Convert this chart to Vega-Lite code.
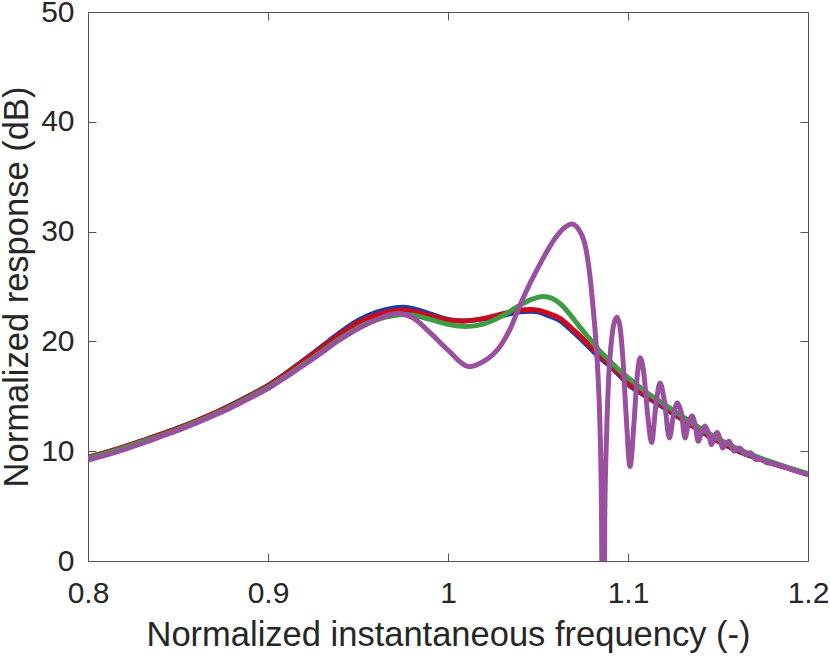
{
  "$schema": "https://vega.github.io/schema/vega-lite/v6.json",
  "width": 720,
  "height": 549,
  "autosize": {"type": "none"},
  "padding": {"left": 88, "top": 12, "right": 22, "bottom": 97},
  "background": "white",
  "config": {
    "view": {"stroke": null},
    "axis": {
      "labelFont": "Liberation Sans",
      "titleFont": "Liberation Sans",
      "labelFontSize": 30,
      "titleFontSize": 34.5,
      "titleFontWeight": "normal",
      "labelColor": "#262626",
      "titleColor": "#262626",
      "domainColor": "#555555",
      "tickColor": "#555555",
      "tickSize": -8,
      "labelFlush": false,
      "labelOverlap": false,
      "grid": false
    }
  },
  "data": {
    "values": [
      {"s": "s1", "f": 0.80, "r": 9.45}, {"s": "s1", "f": 0.81, "r": 9.9}, {"s": "s1", "f": 0.82, "r": 10.4},
      {"s": "s1", "f": 0.83, "r": 10.95}, {"s": "s1", "f": 0.84, "r": 11.5}, {"s": "s1", "f": 0.85, "r": 12.1},
      {"s": "s1", "f": 0.86, "r": 12.75}, {"s": "s1", "f": 0.87, "r": 13.45}, {"s": "s1", "f": 0.88, "r": 14.25},
      {"s": "s1", "f": 0.89, "r": 15.1}, {"s": "s1", "f": 0.90, "r": 16.0}, {"s": "s1", "f": 0.91, "r": 17.1},
      {"s": "s1", "f": 0.92, "r": 18.3}, {"s": "s1", "f": 0.93, "r": 19.55}, {"s": "s1", "f": 0.94, "r": 20.8},
      {"s": "s1", "f": 0.95, "r": 21.9}, {"s": "s1", "f": 0.96, "r": 22.65}, {"s": "s1", "f": 0.97, "r": 23.05},
      {"s": "s1", "f": 0.975, "r": 23.1}, {"s": "s1", "f": 0.98, "r": 23.0}, {"s": "s1", "f": 0.99, "r": 22.5},
      {"s": "s1", "f": 1.00, "r": 22.0}, {"s": "s1", "f": 1.008, "r": 21.85}, {"s": "s1", "f": 1.02, "r": 22.05},
      {"s": "s1", "f": 1.03, "r": 22.35}, {"s": "s1", "f": 1.04, "r": 22.7}, {"s": "s1", "f": 1.046, "r": 22.75},
      {"s": "s1", "f": 1.05, "r": 22.7}, {"s": "s1", "f": 1.055, "r": 22.4}, {"s": "s1", "f": 1.0622, "r": 21.9},
      {"s": "s1", "f": 1.07, "r": 20.8}, {"s": "s1", "f": 1.0733, "r": 20.3}, {"s": "s1", "f": 1.08, "r": 19.2},
      {"s": "s1", "f": 1.0844, "r": 18.5}, {"s": "s1", "f": 1.09, "r": 17.75}, {"s": "s1", "f": 1.0956, "r": 16.85},
      {"s": "s1", "f": 1.10, "r": 16.1}, {"s": "s1", "f": 1.11, "r": 15.0}, {"s": "s1", "f": 1.12, "r": 13.95},
      {"s": "s1", "f": 1.13, "r": 12.9}, {"s": "s1", "f": 1.14, "r": 11.85}, {"s": "s1", "f": 1.15, "r": 10.9},
      {"s": "s1", "f": 1.16, "r": 10.1}, {"s": "s1", "f": 1.17, "r": 9.45}, {"s": "s1", "f": 1.18, "r": 8.9},
      {"s": "s1", "f": 1.19, "r": 8.4}, {"s": "s1", "f": 1.20, "r": 7.9},

      {"s": "s2", "f": 0.80, "r": 9.45}, {"s": "s2", "f": 0.81, "r": 9.9}, {"s": "s2", "f": 0.82, "r": 10.4},
      {"s": "s2", "f": 0.83, "r": 10.95}, {"s": "s2", "f": 0.84, "r": 11.5}, {"s": "s2", "f": 0.85, "r": 12.1},
      {"s": "s2", "f": 0.86, "r": 12.75}, {"s": "s2", "f": 0.87, "r": 13.45}, {"s": "s2", "f": 0.88, "r": 14.2},
      {"s": "s2", "f": 0.89, "r": 15.05}, {"s": "s2", "f": 0.90, "r": 15.95}, {"s": "s2", "f": 0.91, "r": 17.05},
      {"s": "s2", "f": 0.92, "r": 18.25}, {"s": "s2", "f": 0.93, "r": 19.45}, {"s": "s2", "f": 0.94, "r": 20.65},
      {"s": "s2", "f": 0.95, "r": 21.7}, {"s": "s2", "f": 0.96, "r": 22.4}, {"s": "s2", "f": 0.97, "r": 22.8},
      {"s": "s2", "f": 0.975, "r": 22.85}, {"s": "s2", "f": 0.98, "r": 22.75}, {"s": "s2", "f": 0.99, "r": 22.35},
      {"s": "s2", "f": 1.00, "r": 21.95}, {"s": "s2", "f": 1.008, "r": 21.85}, {"s": "s2", "f": 1.02, "r": 22.1},
      {"s": "s2", "f": 1.03, "r": 22.5}, {"s": "s2", "f": 1.04, "r": 22.85}, {"s": "s2", "f": 1.046, "r": 22.9},
      {"s": "s2", "f": 1.05, "r": 22.85}, {"s": "s2", "f": 1.055, "r": 22.6}, {"s": "s2", "f": 1.0622, "r": 22.1},
      {"s": "s2", "f": 1.07, "r": 21.0}, {"s": "s2", "f": 1.0733, "r": 20.5}, {"s": "s2", "f": 1.08, "r": 19.4},
      {"s": "s2", "f": 1.0844, "r": 18.7}, {"s": "s2", "f": 1.09, "r": 17.9}, {"s": "s2", "f": 1.0956, "r": 17.0},
      {"s": "s2", "f": 1.10, "r": 16.25}, {"s": "s2", "f": 1.11, "r": 15.1}, {"s": "s2", "f": 1.12, "r": 14.05},
      {"s": "s2", "f": 1.13, "r": 12.95}, {"s": "s2", "f": 1.14, "r": 11.9}, {"s": "s2", "f": 1.15, "r": 10.95},
      {"s": "s2", "f": 1.16, "r": 10.15}, {"s": "s2", "f": 1.17, "r": 9.5}, {"s": "s2", "f": 1.18, "r": 8.9},
      {"s": "s2", "f": 1.19, "r": 8.4}, {"s": "s2", "f": 1.20, "r": 7.9},

      {"s": "s3", "f": 0.80, "r": 9.35}, {"s": "s3", "f": 0.81, "r": 9.8}, {"s": "s3", "f": 0.82, "r": 10.3},
      {"s": "s3", "f": 0.83, "r": 10.85}, {"s": "s3", "f": 0.84, "r": 11.4}, {"s": "s3", "f": 0.85, "r": 12.0},
      {"s": "s3", "f": 0.86, "r": 12.65}, {"s": "s3", "f": 0.87, "r": 13.35}, {"s": "s3", "f": 0.88, "r": 14.1},
      {"s": "s3", "f": 0.89, "r": 14.95}, {"s": "s3", "f": 0.90, "r": 15.8}, {"s": "s3", "f": 0.91, "r": 16.85},
      {"s": "s3", "f": 0.92, "r": 17.95}, {"s": "s3", "f": 0.93, "r": 19.1}, {"s": "s3", "f": 0.94, "r": 20.25},
      {"s": "s3", "f": 0.95, "r": 21.25}, {"s": "s3", "f": 0.96, "r": 21.95}, {"s": "s3", "f": 0.97, "r": 22.35},
      {"s": "s3", "f": 0.975, "r": 22.45}, {"s": "s3", "f": 0.98, "r": 22.4}, {"s": "s3", "f": 0.99, "r": 22.0},
      {"s": "s3", "f": 1.00, "r": 21.55}, {"s": "s3", "f": 1.01, "r": 21.35}, {"s": "s3", "f": 1.02, "r": 21.6},
      {"s": "s3", "f": 1.03, "r": 22.3}, {"s": "s3", "f": 1.04, "r": 23.3}, {"s": "s3", "f": 1.046, "r": 23.8},
      {"s": "s3", "f": 1.053, "r": 24.1}, {"s": "s3", "f": 1.058, "r": 23.9}, {"s": "s3", "f": 1.0622, "r": 23.45},
      {"s": "s3", "f": 1.07, "r": 22.0}, {"s": "s3", "f": 1.0733, "r": 21.3}, {"s": "s3", "f": 1.0789, "r": 20.2},
      {"s": "s3", "f": 1.0844, "r": 19.1}, {"s": "s3", "f": 1.09, "r": 18.2}, {"s": "s3", "f": 1.0956, "r": 17.3},
      {"s": "s3", "f": 1.10, "r": 16.7}, {"s": "s3", "f": 1.11, "r": 15.4}, {"s": "s3", "f": 1.12, "r": 14.3},
      {"s": "s3", "f": 1.13, "r": 13.2}, {"s": "s3", "f": 1.14, "r": 12.1}, {"s": "s3", "f": 1.15, "r": 11.15},
      {"s": "s3", "f": 1.16, "r": 10.3}, {"s": "s3", "f": 1.17, "r": 9.6}, {"s": "s3", "f": 1.18, "r": 9.0},
      {"s": "s3", "f": 1.19, "r": 8.45}, {"s": "s3", "f": 1.20, "r": 7.95},

      {"s": "s4", "f": 0.80, "r": 9.2}, {"s": "s4", "f": 0.81, "r": 9.65}, {"s": "s4", "f": 0.82, "r": 10.15},
      {"s": "s4", "f": 0.83, "r": 10.7}, {"s": "s4", "f": 0.84, "r": 11.3}, {"s": "s4", "f": 0.85, "r": 11.9},
      {"s": "s4", "f": 0.86, "r": 12.55}, {"s": "s4", "f": 0.87, "r": 13.25}, {"s": "s4", "f": 0.88, "r": 14.0},
      {"s": "s4", "f": 0.89, "r": 14.85}, {"s": "s4", "f": 0.90, "r": 15.7}, {"s": "s4", "f": 0.91, "r": 16.75},
      {"s": "s4", "f": 0.92, "r": 17.85}, {"s": "s4", "f": 0.93, "r": 19.0}, {"s": "s4", "f": 0.94, "r": 20.15},
      {"s": "s4", "f": 0.95, "r": 21.15}, {"s": "s4", "f": 0.96, "r": 21.95}, {"s": "s4", "f": 0.965, "r": 22.3},
      {"s": "s4", "f": 0.972, "r": 22.55}, {"s": "s4", "f": 0.98, "r": 22.2}, {"s": "s4", "f": 0.99, "r": 20.8},
      {"s": "s4", "f": 1.00, "r": 19.2}, {"s": "s4", "f": 1.012, "r": 17.7}, {"s": "s4", "f": 1.02, "r": 18.2},
      {"s": "s4", "f": 1.025, "r": 18.8}, {"s": "s4", "f": 1.03, "r": 19.8}, {"s": "s4", "f": 1.035, "r": 21.3},
      {"s": "s4", "f": 1.04, "r": 23.3}, {"s": "s4", "f": 1.045, "r": 25.1}, {"s": "s4", "f": 1.05, "r": 26.7},
      {"s": "s4", "f": 1.055, "r": 28.2}, {"s": "s4", "f": 1.06, "r": 29.5}, {"s": "s4", "f": 1.065, "r": 30.4},
      {"s": "s4", "f": 1.0687, "r": 30.7},
      {"s": "s4", "f": 1.0743, "r": 29.7}, {"s": "s4", "f": 1.077, "r": 28.1}, {"s": "s4", "f": 1.0789, "r": 25.9},
      {"s": "s4", "f": 1.0807, "r": 22.9}, {"s": "s4", "f": 1.0821, "r": 20.2}, {"s": "s4", "f": 1.0833, "r": 17.0},
      {"s": "s4", "f": 1.0844, "r": 12.5}, {"s": "s4", "f": 1.0853, "r": 4.0}, {"s": "s4", "f": 1.0862, "r": -25},
      {"s": "s4", "f": 1.0871, "r": 4.0}, {"s": "s4", "f": 1.0882, "r": 12.0}, {"s": "s4", "f": 1.0893, "r": 16.8},
      {"s": "s4", "f": 1.0906, "r": 19.7}, {"s": "s4", "f": 1.092, "r": 21.5}, {"s": "s4", "f": 1.0939, "r": 22.2},
      {"s": "s4", "f": 1.0955, "r": 21.4}, {"s": "s4", "f": 1.097, "r": 18.8}, {"s": "s4", "f": 1.099, "r": 13.2},
      {"s": "s4", "f": 1.1011, "r": 8.6}, {"s": "s4", "f": 1.1033, "r": 12.5}, {"s": "s4", "f": 1.105, "r": 16.6},
      {"s": "s4", "f": 1.1067, "r": 18.5}, {"s": "s4", "f": 1.1087, "r": 17.2}, {"s": "s4", "f": 1.111, "r": 13.2},
      {"s": "s4", "f": 1.1131, "r": 10.8}, {"s": "s4", "f": 1.1155, "r": 14.2}, {"s": "s4", "f": 1.1178, "r": 16.2},
      {"s": "s4", "f": 1.1202, "r": 14.6}, {"s": "s4", "f": 1.123, "r": 11.2}, {"s": "s4", "f": 1.1252, "r": 13.2},
      {"s": "s4", "f": 1.1274, "r": 14.4}, {"s": "s4", "f": 1.1296, "r": 13.5}, {"s": "s4", "f": 1.1317, "r": 11.2},
      {"s": "s4", "f": 1.1335, "r": 12.5}, {"s": "s4", "f": 1.1356, "r": 13.2}, {"s": "s4", "f": 1.1373, "r": 12.4},
      {"s": "s4", "f": 1.139, "r": 10.9}, {"s": "s4", "f": 1.141, "r": 11.8}, {"s": "s4", "f": 1.1428, "r": 12.3},
      {"s": "s4", "f": 1.1446, "r": 11.7}, {"s": "s4", "f": 1.1465, "r": 10.6}, {"s": "s4", "f": 1.148, "r": 11.3},
      {"s": "s4", "f": 1.1496, "r": 11.7}, {"s": "s4", "f": 1.151, "r": 11.2}, {"s": "s4", "f": 1.1526, "r": 10.3},
      {"s": "s4", "f": 1.1543, "r": 10.7}, {"s": "s4", "f": 1.1561, "r": 10.9}, {"s": "s4", "f": 1.1575, "r": 10.5},
      {"s": "s4", "f": 1.1589, "r": 10.0}, {"s": "s4", "f": 1.1605, "r": 10.2}, {"s": "s4", "f": 1.1622, "r": 10.3},
      {"s": "s4", "f": 1.1636, "r": 10.0}, {"s": "s4", "f": 1.165, "r": 9.7}, {"s": "s4", "f": 1.1681, "r": 9.85},
      {"s": "s4", "f": 1.171, "r": 9.25}, {"s": "s4", "f": 1.1743, "r": 9.3}, {"s": "s4", "f": 1.177, "r": 8.95},
      {"s": "s4", "f": 1.18, "r": 8.9}, {"s": "s4", "f": 1.19, "r": 8.4}, {"s": "s4", "f": 1.20, "r": 7.85}
    ]
  },
  "layer": [
    {
      "mark": {"type": "line", "strokeWidth": 5, "interpolate": "monotone", "clip": true},
      "encoding": {
        "x": {
          "field": "f", "type": "quantitative",
          "scale": {"domain": [0.8, 1.2], "nice": false},
          "axis": {"values": [0.8, 0.9, 1.0, 1.1, 1.2], "format": "~g", "labelPadding": 25, "title": "Normalized instantaneous frequency (-)", "titlePadding": 10}
        },
        "y": {
          "field": "r", "type": "quantitative",
          "scale": {"domain": [0, 50], "nice": false},
          "axis": {"values": [0, 10, 20, 30, 40, 50], "labelPadding": 22, "title": "Normalized response (dB)", "titlePadding": 6}
        },
        "color": {
          "field": "s", "type": "nominal", "legend": null,
          "scale": {"domain": ["s1", "s2", "s3", "s4"], "range": ["#1440a8", "#cc0a1e", "#3d9d45", "#9a509e"]}
        },
        "order": {"field": "f", "type": "quantitative"}
      }
    },
    {
      "mark": {"type": "line", "opacity": 0},
      "encoding": {
        "x": {
          "field": "f", "type": "quantitative",
          "scale": {"domain": [0.8, 1.2], "nice": false},
          "axis": {"orient": "top", "values": [0.8, 0.9, 1.0, 1.1, 1.2], "labels": false, "title": null}
        },
        "y": {
          "field": "r", "type": "quantitative",
          "scale": {"domain": [0, 50], "nice": false},
          "axis": {"orient": "right", "values": [0, 10, 20, 30, 40, 50], "labels": false, "title": null}
        },
        "detail": {"field": "s"}
      }
    }
  ],
  "resolve": {"axis": {"x": "independent", "y": "independent"}}
}
